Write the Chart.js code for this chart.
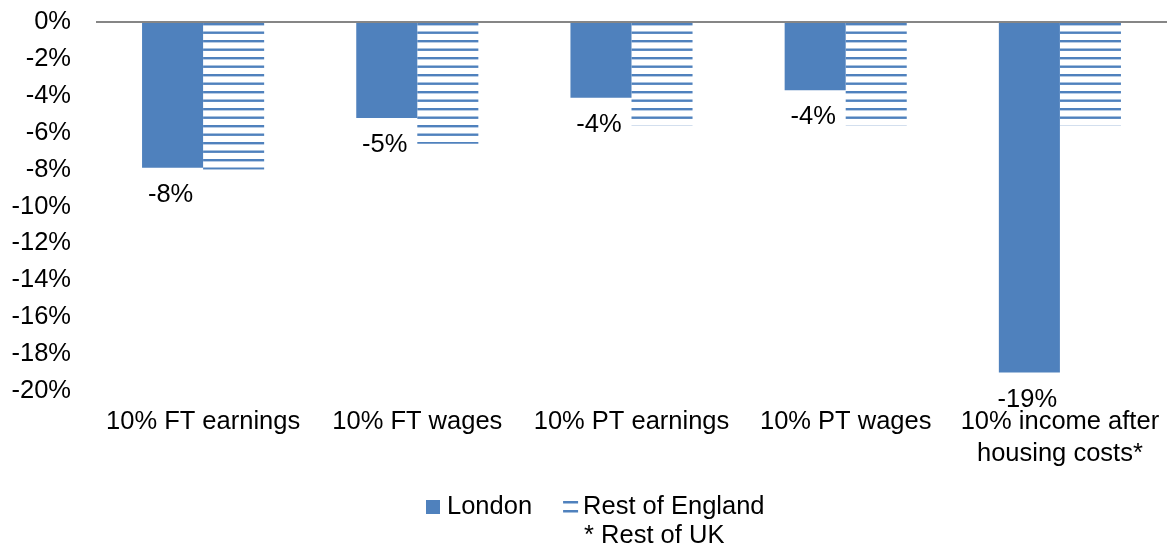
<!DOCTYPE html>
<html>
<head>
<meta charset="utf-8">
<script src="https://cdn.jsdelivr.net/npm/chart.js@4.4.1/dist/chart.umd.min.js"></script>
<style>
  html, body { margin: 0; padding: 0; background: #fff; }
  #wrap { width: 1167px; height: 546px; position: relative; }
</style>
</head>
<body>
<div id="wrap"><canvas id="chart"></canvas></div>
<script>
const categories = ['10% FT earnings', '10% FT wages', '10% PT earnings', '10% PT wages', ['10% income after', 'housing costs*']];
const londonValues = [-7.9, -5.2, -4.1, -3.7, -19.0];
const restValues = [-8.0, -6.6, -5.6, -5.6, -5.6];
const seriesNames = ['London', 'Rest of England'];
const footNote = '* Rest of UK';
const yMin = -20;
const yMax = 0;
const yStep = 2;

const blue = '#4f81bd';
const fontFamily = 'Arial, "Liberation Sans", sans-serif';
const fontSize = 25.5;

Chart.defaults.color = '#000';
Chart.defaults.font.family = fontFamily;
Chart.defaults.font.size = fontSize;

// horizontal stripes for the Rest of England bars
function stripePattern() {
  const c = document.createElement('canvas');
  c.width = 17;
  c.height = 17;
  const g = c.getContext('2d');
  g.fillStyle = '#fff';
  g.fillRect(0, 0, 17, 17);
  g.fillStyle = blue;
  g.fillRect(0, 6, 17, 2.4);
  g.fillRect(0, 14.5, 17, 2.4);
  return g.createPattern(c, 'repeat');
}

// value labels under the London bars
const barLabels = {
  id: 'barLabels',
  afterDatasetsDraw(chart) {
    const ctx = chart.ctx;
    const meta = chart.getDatasetMeta(0);
    ctx.save();
    ctx.font = `${fontSize}px ${fontFamily}`;
    ctx.fillStyle = '#000';
    ctx.textAlign = 'center';
    ctx.textBaseline = 'middle';
    meta.data.forEach((bar, i) => {
      ctx.fillText(Math.round(londonValues[i]) + '%', bar.x - 2, bar.y + 27);
    });
    ctx.restore();
  }
};

// legend + footnote at the bottom
const legendNote = {
  id: 'legendNote',
  afterDraw(chart) {
    const ctx = chart.ctx;
    const y = 507;
    let x = 426;
    ctx.save();
    ctx.font = `${fontSize}px ${fontFamily}`;
    ctx.textBaseline = 'middle';

    ctx.fillStyle = blue;
    ctx.fillRect(x, y - 7, 14, 14);
    x += 21;
    ctx.fillStyle = '#000';
    ctx.fillText(seriesNames[0], x, y);
    x += ctx.measureText(seriesNames[0]).width + 31;

    ctx.fillStyle = blue;
    ctx.fillRect(x, y - 6, 15, 2.5);
    ctx.fillRect(x, y + 3, 15, 2.5);
    x += 20;
    ctx.fillStyle = '#000';
    ctx.fillText(seriesNames[1], x, y);
    ctx.fillText(footNote, x + 1, y + 29);
    ctx.restore();
  }
};

const ctx = document.getElementById('chart').getContext('2d');

const chart = new Chart(ctx, {
  type: 'bar',
  data: {
    labels: categories,
    datasets: [
      {
        label: seriesNames[0],
        data: londonValues,
        backgroundColor: blue,
        categoryPercentage: 0.57,
        barPercentage: 1
      },
      {
        label: seriesNames[1],
        data: restValues,
        backgroundColor: stripePattern(),
        categoryPercentage: 0.57,
        barPercentage: 1
      }
    ]
  },
  options: {
    responsive: true,
    maintainAspectRatio: false,
    animation: false,
    layout: {
      padding: { top: 22, right: 0, bottom: 61, left: 0 }
    },
    plugins: {
      legend: { display: false },
      tooltip: { enabled: false }
    },
    scales: {
      x: {
        grid: { display: false, drawTicks: false },
        border: { display: false },
        ticks: {
          maxRotation: 0,
          autoSkip: false,
          padding: 15,
          font: { size: fontSize, lineHeight: 1.255 }
        },
        afterFit: scale => {
          scale.paddingLeft = 0;
          scale.paddingRight = 0;
        }
      },
      y: {
        min: yMin,
        max: yMax,
        border: { display: false },
        grid: {
          drawTicks: false,
          lineWidth: 2,
          color: c => (c.tick && c.tick.value === 0 ? '#868686' : 'rgba(0,0,0,0)')
        },
        ticks: {
          stepSize: yStep,
          autoSkip: false,
          padding: 25,
          callback: v => v + '%'
        },
        afterFit: scale => {
          scale.width = 96;
          scale.paddingTop = 0;
          scale.paddingBottom = 0;
        }
      }
    }
  },
  plugins: [barLabels, legendNote]
});
</script>
</body>
</html>
